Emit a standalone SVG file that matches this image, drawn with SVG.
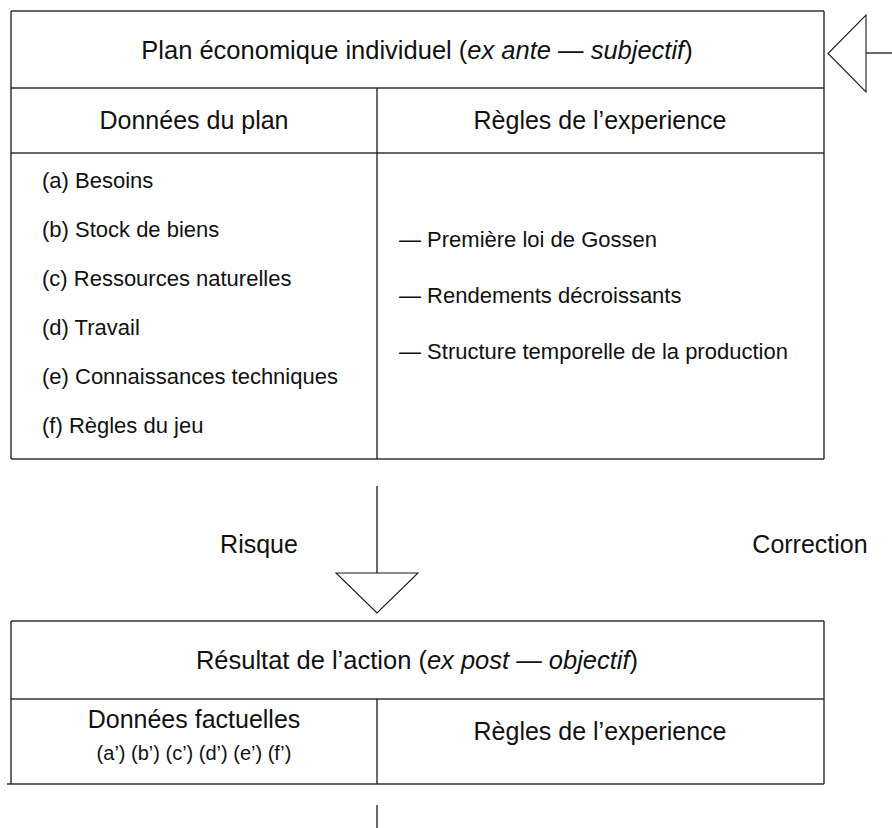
<svg xmlns="http://www.w3.org/2000/svg" width="892" height="828" viewBox="0 0 892 828">
<style>
  .ln { stroke: #1a1a1a; stroke-width: 1.3; fill: none; }
  .hl { stroke: #333; stroke-width: 1.5; fill: none; }
  .hd { font-family: "Liberation Sans", Arial, Helvetica, sans-serif; font-size: 25px; fill: #111; }
  .tt { font-family: "Liberation Sans", Arial, Helvetica, sans-serif; font-size: 25.5px; fill: #111; }
  .it { font-family: "Liberation Sans", Arial, Helvetica, sans-serif; font-size: 22px; fill: #111; }
  .sm { font-family: "Liberation Sans", Arial, Helvetica, sans-serif; font-size: 20px; fill: #111; }
  .ar { stroke: #1a1a1a; stroke-width: 1.1; fill: #fff; }
</style>
<rect width="892" height="828" fill="#fff"/>

<g id="plan">
  <line class="hl" x1="11" y1="11" x2="824" y2="11"/>
  <line class="hl" x1="11" y1="88" x2="824" y2="88"/>
  <line class="hl" x1="11" y1="153" x2="824" y2="153"/>
  <line class="hl" x1="11" y1="459" x2="824" y2="459"/>
  <line class="ln" x1="11" y1="11" x2="11" y2="459"/>
  <line class="ln" x1="824" y1="11" x2="824" y2="459"/>
  <line class="ln" x1="377" y1="88" x2="377" y2="459"/>
  <text class="tt" x="417" y="59" text-anchor="middle">Plan économique individuel (<tspan font-style="italic">ex ante — subjectif</tspan>)</text>
  <text class="hd" x="194" y="129" text-anchor="middle">Données du plan</text>
  <text class="hd" x="600" y="129" text-anchor="middle">Règles de l’experience</text>
  <text class="it" x="42" y="188">(a) Besoins</text>
  <text class="it" x="42" y="237">(b) Stock de biens</text>
  <text class="it" x="42" y="286">(c) Ressources naturelles</text>
  <text class="it" x="42" y="335">(d) Travail</text>
  <text class="it" x="42" y="384">(e) Connaissances techniques</text>
  <text class="it" x="42" y="433">(f) Règles du jeu</text>
  <text class="it" x="399" y="247">— Première loi de Gossen</text>
  <text class="it" x="399" y="303">— Rendements décroissants</text>
  <text class="it" x="399" y="359">— Structure temporelle de la production</text>
</g>

<g id="resultat">
  <line class="hl" x1="11" y1="621" x2="824" y2="621"/>
  <line class="hl" x1="11" y1="699" x2="824" y2="699"/>
  <line class="hl" x1="7" y1="784" x2="824" y2="784"/>
  <line class="ln" x1="11" y1="621" x2="11" y2="784"/>
  <line class="ln" x1="824" y1="621" x2="824" y2="784"/>
  <line class="ln" x1="377" y1="699" x2="377" y2="784"/>
  <text class="tt" x="417" y="669" text-anchor="middle">Résultat de l’action (<tspan font-style="italic">ex post — objectif</tspan>)</text>
  <text class="hd" x="194" y="728" text-anchor="middle">Données factuelles</text>
  <text class="sm" x="194" y="760" text-anchor="middle">(a’) (b’) (c’) (d’) (e’) (f’)</text>
  <text class="hd" x="600" y="740" text-anchor="middle">Règles de l’experience</text>
</g>

<g id="label-risque">
  <text class="hd" x="259" y="553" text-anchor="middle">Risque</text>
</g>
<g id="label-correction">
  <text class="hd" x="810" y="553" text-anchor="middle">Correction</text>
</g>

<g id="connectors">
  <line class="ln" x1="377" y1="486" x2="377" y2="573"/>
  <polygon class="ar" points="336,573 418,573 377,613"/>
  <line class="ln" x1="866" y1="53" x2="892" y2="53"/>
  <polygon class="ar" points="866,15 866,92 828,53.5"/>
  <line class="ln" x1="377" y1="805" x2="377" y2="828"/>
</g>
</svg>
